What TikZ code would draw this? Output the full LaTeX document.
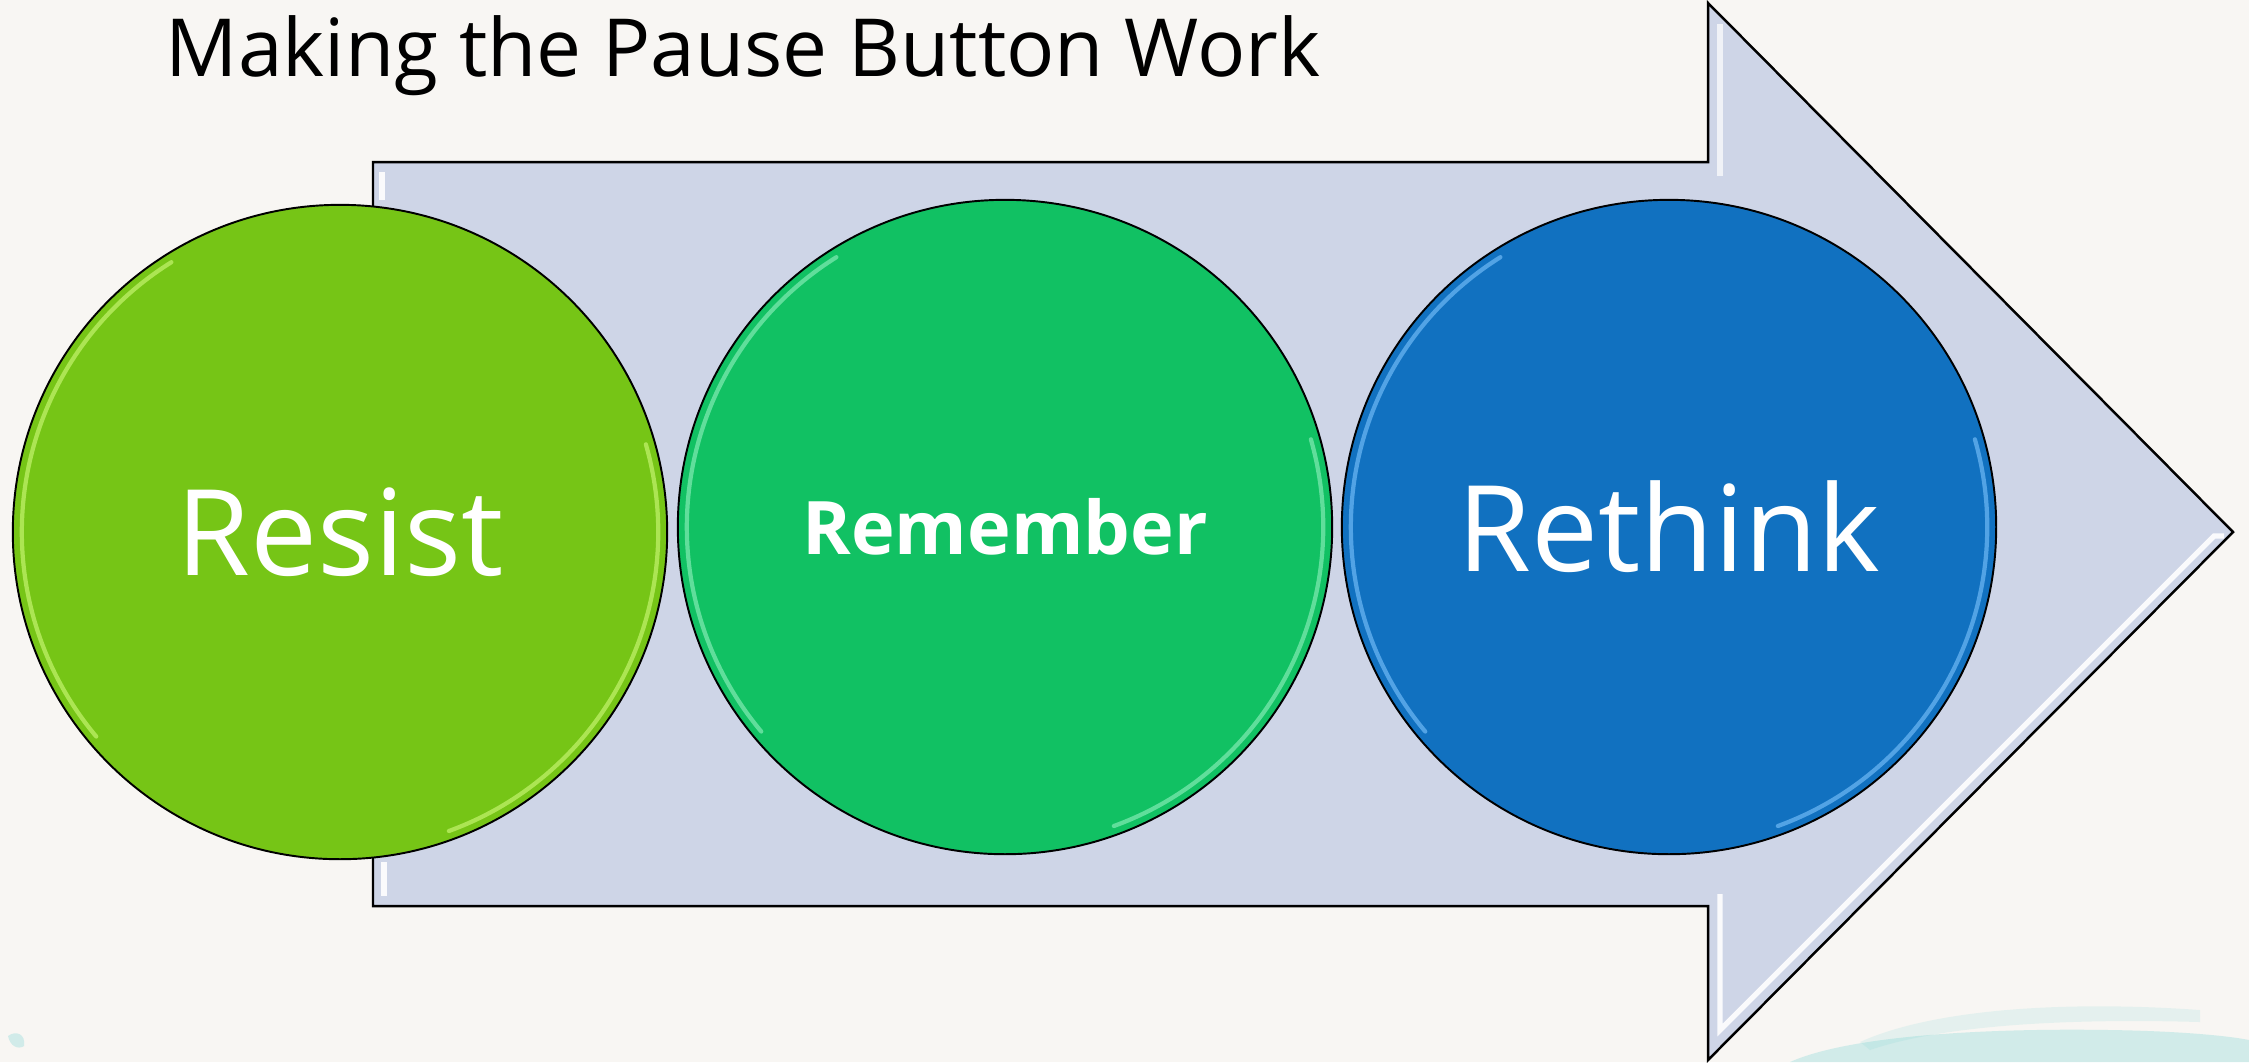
\documentclass[tikz,border=0pt]{standalone}
\usepackage{fontspec}
\setmainfont{Open Sans}
\tikzstyle{slide} = [x = 0.01cm, y = -0.01cm]
\definecolor{paperColor}{RGB}{248,246,243}
\definecolor{arrowColor}{RGB}{206,213,231}
\definecolor{resistColor}{RGB}{118,197,22}
\definecolor{rememberColor}{RGB}{17,193,99}
\definecolor{rethinkColor}{RGB}{17,113,192}
\definecolor{resistGlint}{RGB}{196,243,110}
\definecolor{rememberGlint}{RGB}{130,235,180}
\definecolor{rethinkGlint}{RGB}{110,185,245}
\definecolor{brushColor}{RGB}{120,212,210}
\tikzstyle{arrowStyle} = [fill=arrowColor, draw=black, line width=.7pt, line join=miter]
\tikzstyle{bevelLine} = [white, line width=1.5pt, opacity=.9]
\tikzstyle{stepCircle} = [circle, draw=black, line width=.55pt, minimum size=6.54cm, inner sep=0, text=white, font=\fontsize{34}{40}\selectfont]
\tikzstyle{glint} = [line width=1.2pt, opacity=.7, line cap=round]
\newcommand{\glintRadius}{3.18cm}
\newcommand{\stepGlint}[2]{
  \draw [glint, #2] ([shift={(122:\glintRadius)}]#1.center) arc [start angle=122, end angle=220, radius=\glintRadius];
  \draw [glint, #2] ([shift={(-70:\glintRadius)}]#1.center) arc [start angle=-70, end angle=16, radius=\glintRadius];
}

\begin{document}
\begin{tikzpicture}[slide]
  \fill [paperColor] (0,0) rectangle (2249,1062);
  \useasboundingbox (0,0) rectangle (2249,1062);

  % brush marks along the bottom edge
  \fill [brushColor, opacity=.3] (1790,1062) .. controls (1850,1035) and (1990,1028) .. (2110,1030)
    .. controls (2180,1031) and (2230,1036) .. (2249,1040) -- (2249,1062) -- cycle;
  \fill [brushColor, opacity=.15] (1860,1042) .. controls (1930,1010) and (2060,1000) .. (2200,1010)
    -- (2200,1022) .. controls (2060,1018) and (1940,1026) .. (1870,1050) -- cycle;
  \fill [brushColor, opacity=.3] (8,1036) .. controls (16,1030) and (26,1034) .. (24,1046)
    .. controls (18,1050) and (10,1046) .. cycle;

  \node [anchor=base west, inner sep=0, font=\fontsize{22.8}{27}\selectfont] (title) at (165,76) {Making the Pause Button Work};

  % big arrow behind the steps
  \filldraw [arrowStyle] (373,162) -- (1708,162) -- (1708,3) -- (2233,532)
    -- (1708,1060) -- (1708,906) -- (373,906) -- cycle;
  \draw [bevelLine] (382,172) -- (382,200);
  \draw [bevelLine] (384,862) -- (384,896);
  \draw [bevelLine, opacity=.7] (1720,24) -- (1720,176);
  \draw [bevelLine] (1720,894) -- (1720,1030) -- (2214,536) -- (2224,536);

  \node [stepCircle, fill=resistColor] (resist) at (340,532) {Resist};
  \node [stepCircle, fill=rememberColor, font=\fontsize{21}{25}\bfseries] (remember) at (1005,527) {Remember};
  \node [stepCircle, fill=rethinkColor] (rethink) at (1669,527) {Rethink};

  \stepGlint{resist}{resistGlint}
  \stepGlint{remember}{rememberGlint}
  \stepGlint{rethink}{rethinkGlint}
\end{tikzpicture}
\end{document}
